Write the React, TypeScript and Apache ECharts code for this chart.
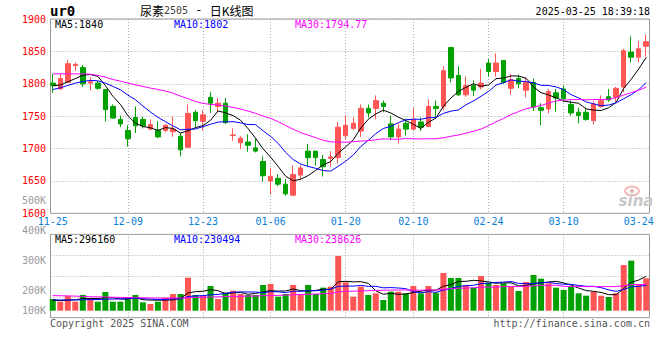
import React, { useEffect, useRef } from 'react';
import * as echarts from 'echarts';

const dates = [
  '2024-11-25','2024-11-26','2024-11-27','2024-11-28','2024-11-29',
  '2024-12-02','2024-12-03','2024-12-04','2024-12-05','2024-12-06',
  '2024-12-09','2024-12-10','2024-12-11','2024-12-12','2024-12-13',
  '2024-12-16','2024-12-17','2024-12-18','2024-12-19','2024-12-20',
  '2024-12-23','2024-12-24','2024-12-25','2024-12-26','2024-12-27',
  '2024-12-30','2024-12-31','2025-01-02','2025-01-03',
  '2025-01-06','2025-01-07','2025-01-08','2025-01-09','2025-01-10',
  '2025-01-13','2025-01-14','2025-01-15','2025-01-16','2025-01-17',
  '2025-01-20','2025-01-21','2025-01-22','2025-01-23','2025-01-24',
  '2025-01-27','2025-02-05','2025-02-06','2025-02-07',
  '2025-02-10','2025-02-11','2025-02-12','2025-02-13','2025-02-14',
  '2025-02-17','2025-02-18','2025-02-19','2025-02-20','2025-02-21',
  '2025-02-24','2025-02-25','2025-02-26','2025-02-27','2025-02-28',
  '2025-03-03','2025-03-04','2025-03-05','2025-03-06','2025-03-07',
  '2025-03-10','2025-03-11','2025-03-12','2025-03-13','2025-03-14',
  '2025-03-17','2025-03-18','2025-03-19','2025-03-20','2025-03-21',
  '2025-03-24','2025-03-25',
];

const opens = [1801,1792,1802,1828,1825,1801,1801,1791,1765,1745,1728,1748,1745,1730,1728,1728,1726,1719,1702,1756,1742,1779,1765,1770,1720,1709,1710,1701,1680,1650,1654,1645,1628,1659,1696,1696,1683,1685,1686,1720,1731,1727,1762,1762,1770,1738,1718,1739,1730,1741,1734,1765,1765,1856,1813,1783,1797,1795,1832,1819,1836,1793,1808,1790,1802,1763,1761,1786,1792,1768,1756,1756,1743,1765,1780,1779,1795,1849,1841,1858];
const closes = [1797,1808,1831,1830,1800,1803,1793,1760,1747,1738,1715,1735,1735,1737,1718,1736,1730,1698,1754,1743,1752,1770,1770,1740,1721,1716,1705,1696,1658,1657,1645,1630,1660,1670,1686,1686,1672,1687,1733,1736,1739,1762,1755,1774,1765,1718,1730,1730,1745,1733,1765,1762,1820,1809,1783,1797,1790,1801,1819,1832,1802,1806,1800,1802,1764,1759,1788,1778,1777,1755,1751,1745,1769,1774,1775,1793,1851,1841,1854,1865];
const lows = [1786,1791,1801,1820,1795,1790,1791,1742,1746,1733,1703,1724,1731,1728,1716,1725,1718,1688,1701,1733,1728,1755,1756,1738,1712,1699,1695,1694,1649,1629,1642,1627,1627,1652,1673,1674,1657,1672,1677,1714,1729,1718,1748,1745,1756,1713,1708,1720,1728,1727,1733,1748,1759,1802,1781,1780,1781,1791,1811,1811,1800,1783,1793,1779,1758,1736,1754,1757,1772,1751,1739,1743,1737,1763,1772,1772,1787,1833,1833,1842];
const highs = [1815,1815,1837,1833,1829,1810,1804,1791,1768,1751,1736,1765,1749,1745,1742,1737,1749,1724,1768,1759,1759,1787,1778,1778,1731,1719,1722,1715,1688,1670,1660,1653,1674,1674,1707,1696,1690,1696,1741,1751,1748,1768,1768,1782,1774,1751,1739,1746,1763,1748,1776,1774,1827,1856,1827,1811,1805,1823,1838,1847,1836,1815,1814,1810,1808,1770,1792,1792,1797,1774,1763,1763,1774,1782,1792,1795,1854,1873,1866,1876];

const ma5 = [1797,1798,1803,1808,1813.2,1814.3,1811.4,1797.3,1780.7,1768.3,1750.7,1739.1,1734.0,1732.0,1728.0,1732.3,1731.1,1723.9,1727.3,1732.3,1735.5,1743.6,1758.0,1755.1,1750.8,1743.7,1730.6,1715.9,1699.5,1686.6,1672.4,1657.3,1650.1,1652.6,1658.2,1666.3,1674.7,1680.0,1692.7,1702.7,1713.5,1731.6,1745.2,1753.4,1759.2,1754.9,1748.4,1743.3,1737.4,1731.0,1740.5,1747.0,1765.2,1778.0,1788.1,1794.5,1800.0,1796.1,1798.2,1807.8,1808.9,1812.1,1811.9,1808.6,1795.0,1786.3,1782.7,1778.4,1773.3,1771.4,1769.9,1761.2,1759.3,1758.8,1762.9,1771.3,1792.7,1807.0,1822.9,1840.9];
const ma10 = [1791.2,1793.8,1797.4,1801,1803.5,1805.1,1804.6,1801,1796,1790.7,1782.5,1775.3,1765.6,1756.4,1748.2,1741.5,1735.1,1728.9,1729.7,1730.2,1733.9,1737.4,1740.9,1741.2,1741.6,1739.6,1737.1,1736.9,1727.3,1718.7,1708.0,1694.0,1683.0,1676.0,1672.4,1669.4,1666.0,1665.1,1672.6,1680.5,1689.9,1703.2,1712.6,1723.0,1731.0,1734.2,1740.0,1744.3,1745.4,1745.1,1747.7,1747.7,1754.3,1757.7,1759.6,1767.5,1773.5,1780.6,1788.1,1798.0,1801.7,1806.1,1804.0,1803.4,1801.4,1797.6,1797.4,1795.2,1790.9,1783.2,1778.1,1772.0,1768.9,1766.1,1767.2,1770.6,1776.9,1783.2,1790.9,1801.9];
const ma30 = [1815.3,1815.3,1815.3,1815.3,1815.3,1814.8,1812.8,1810.2,1806.6,1804.1,1801,1798.4,1795.9,1793.3,1791.2,1788.7,1785.6,1781,1776.9,1772.8,1769.7,1768.1,1767.1,1765.6,1763.5,1760.9,1757.9,1754.3,1750.2,1746.5,1741.5,1735.5,1729.9,1724.5,1720.7,1716.8,1712.8,1710.3,1709.9,1709.8,1710.6,1711.5,1712.2,1713.4,1715.0,1714.4,1714.4,1715.4,1715.1,1714.8,1715.2,1715.0,1716.6,1718.9,1721.0,1723.7,1726.5,1730.0,1735.4,1741.2,1746.4,1752.3,1757.0,1761.4,1764.0,1766.4,1770.3,1773.4,1774.8,1775.4,1775.8,1775.2,1775.7,1775.7,1776.1,1778.6,1782.6,1786.3,1790.0,1794.77];

// volume, in thousands of lots
const volK = [133.7,114.6,155.1,114.6,162.3,138.5,114.6,183.8,114.6,114.6,143.2,162.3,109.9,98.0,114.6,143.2,169.4,169.4,286.2,162.3,157.5,226.7,133.7,179.0,193.3,169.4,162.3,162.3,233.8,240.9,150.4,169.4,233.8,169.4,233.8,169.4,214.7,221.9,441.1,252.9,150.4,221.9,162.3,174.2,126.5,186.1,186.1,174.2,226.7,174.2,226.7,179.0,319.6,283.8,283.8,233.8,214.7,298.1,250.5,233.8,245.7,219.5,190.9,255.2,305.3,279.1,245.7,214.7,198.1,226.7,174.2,157.5,186.1,157.5,148.0,174.2,376.8,407.8,238.6,281.5];
const volMa5 = [125,122,125,128,136.1,137.0,137.0,142.8,142.8,133.2,134.2,143.7,128.9,125.6,125.6,125.6,127.0,138.9,176.6,186.1,189.0,200.4,193.3,171.8,178.0,180.4,167.5,173.3,184.2,193.7,189.9,191.4,205.7,192.8,191.4,195.2,204.2,201.8,256.2,260.0,256.2,257.6,245.7,192.3,167.1,174.2,167.0,169.4,179.9,189.5,197.6,196.2,225.2,236.7,258.6,260.0,267.1,262.8,256.2,246.2,248.6,249.5,228.1,229.0,243.3,250.0,255.2,260.0,248.6,232.9,211.9,194.2,188.5,180.4,164.7,164.7,208.5,252.9,269.1,296.16];
const volMa10 = [128,127,127,127,128,129,130,132,133,134.6,135.6,140.4,135.8,134.2,129.4,129.9,135.4,133.9,151.1,155.9,157.3,163.7,166.1,174.2,182.1,184.7,184.0,183.3,178.0,185.9,185.2,179.5,189.5,188.5,192.6,192.6,197.8,203.8,224.5,225.7,225.7,230.9,223.8,224.3,213.5,215.2,212.3,207.6,186.1,178.3,185.9,181.6,197.3,208.3,224.0,228.8,231.7,244.0,246.4,252.4,254.3,258.3,245.5,242.6,244.8,249.3,252.4,244.0,238.8,238.1,230.9,224.7,224.3,214.5,198.8,188.3,201.4,220.7,224.7,230.494];
const volMa30 = [158,157,156,154,152,150,149,148,146,145,144,143,142,141,140,140,140,140,143,145,146,148,149,151,152,153,154,155,157,158.8,159.4,161.2,163.8,165.6,168.0,169.0,172.4,173.6,184.5,189.1,189.4,191.4,193.1,195.7,196.1,197.5,198.0,198.2,196.2,196.6,198.9,197.3,203.5,207.0,210.0,212.2,213.9,218.5,219.0,218.8,222.0,223.6,222.2,225.1,227.4,231.1,232.1,231.9,223.8,222.9,223.7,221.6,222.4,221.8,222.5,222.1,228.5,236.3,236.7,238.626];

const xLabelDates = ['11-25','12-09','12-23','01-06','01-20','02-10','02-24','03-10','03-24'];
const xGridDates = ['12-09','12-23','01-06','01-20','02-10','02-24','03-10'];
const priceLegend = ['MA5:1840', 'MA10:1802', 'MA30:1794.77'];
const volLegend = ['MA5:296160', 'MA10:230494', 'MA30:238626'];
const volTickLabels = ['500K', '400K', '300K', '200K', '100K'];

const UP = '#ff5555';
const DOWN = '#00a000';
const MONO = '"DejaVu Sans Mono", "Liberation Mono", monospace';
const CJK = '"Noto Sans CJK SC", sans-serif';
const DOT = { color: '#aaaaaa', width: 1, type: [1, 2] as number[] };

export default function App() {
  const ref = useRef<HTMLDivElement>(null);

  useEffect(() => {
    if (!ref.current) return;
    const chart = echarts.init(ref.current, undefined, { renderer: 'svg' });

    const md = (v: string) => v.slice(5);
    const candleData = dates.map((_, i) => [opens[i], closes[i], lows[i], highs[i]]);
    const volData = volK.map((v, i) => ({
      value: v,
      itemStyle: { color: closes[i] >= opens[i] ? UP : DOWN },
    }));
    const line = (data: number[], color: string, xi: number, yi: number) => ({
      type: 'line', data, xAxisIndex: xi, yAxisIndex: yi, symbol: 'none', silent: true,
      lineStyle: { color, width: 1 }, itemStyle: { color }, z: 5,
    });

    const legendColors = ['#000000', '#0000ff', '#ff00ff'];
    const legendX = [55, 174, 295];
    const graphic: any[] = [];
    priceLegend.forEach((t, k) => graphic.push({
      type: 'text', x: legendX[k], y: 24, silent: true,
      style: { text: t, fill: legendColors[k], font: `10px ${MONO}`, textAlign: 'left', textVerticalAlign: 'middle' },
    }));
    volLegend.forEach((t, k) => graphic.push({
      type: 'text', x: legendX[k], y: 239.5, silent: true,
      style: { text: t, fill: legendColors[k], font: `10px ${MONO}`, textAlign: 'left', textVerticalAlign: 'middle' },
    }));
    const volLabelY = [200.7, 230.7, 260.7, 290.7, 310.7];
    volTickLabels.forEach((t, k) => graphic.push({
      type: 'text', x: 46, y: volLabelY[k], silent: true,
      style: { text: t, fill: '#999999', font: `10px ${MONO}`, textAlign: 'right', textVerticalAlign: 'middle' },
    }));
    graphic.push(
      { type: 'text', x: 50, y: 11, silent: true,
        style: { text: 'ur0', fill: '#000', font: `bold 14px ${MONO}`, textAlign: 'left', textVerticalAlign: 'middle' } },
      { type: 'text', x: 140, y: 10, silent: true,
        style: {
          text: '{c|尿素}{n|2505}{m| - }{c|日K线图}', textAlign: 'left', textVerticalAlign: 'middle',
          rich: {
            c: { fontFamily: CJK, fontSize: 12, fill: '#000', color: '#000' },
            n: { fontFamily: MONO, fontSize: 10, fill: '#444', color: '#444' },
            m: { fontFamily: MONO, fontSize: 12, fill: '#000', color: '#000' },
          },
        } },
      { type: 'text', x: 650, y: 11, silent: true,
        style: { text: '2025-03-25 18:39:18', fill: '#000', font: `10px ${MONO}`, textAlign: 'right', textVerticalAlign: 'middle' } },
      { type: 'text', x: 50, y: 323.5, silent: true,
        style: { text: 'Copyright 2025 SINA.COM', fill: '#555', font: `10px ${MONO}`, textAlign: 'left', textVerticalAlign: 'middle' } },
      { type: 'text', x: 650, y: 323.5, silent: true,
        style: { text: 'http://finance.sina.com.cn', fill: '#555', font: `10px ${MONO}`, textAlign: 'right', textVerticalAlign: 'middle' } },
      { type: 'ellipse', shape: { cx: 632, cy: 191, rx: 7, ry: 4.5 }, silent: true, z: 0,
        style: { fill: 'none', stroke: '#f0b8b8', lineWidth: 2 } },
      { type: 'circle', shape: { cx: 632, cy: 191, r: 2 }, silent: true, z: 0,
        style: { fill: '#e8b0b0' } },
      { type: 'text', x: 636, y: 201, silent: true, z: 0,
        style: { text: 'sina', fill: '#c8c8c8', font: `italic bold 15px "DejaVu Sans", sans-serif`, textAlign: 'center', textVerticalAlign: 'middle' } },
    );

    const hiddenValueX = (gi: number) => ({ gridIndex: gi, type: 'value', show: false, min: 0, max: 1 });

    chart.setOption({
      animation: false,
      backgroundColor: '#ffffff',
      grid: [
        { left: 50.5, top: 19, width: 599, height: 194.3, show: true, borderColor: '#999999', borderWidth: 1, backgroundColor: 'transparent' },
        { left: 52.76, top: 19, width: 593.48, height: 194.3 },
        { left: 50.5, top: 234.4, width: 599, height: 83.3, show: true, borderColor: '#999999', borderWidth: 1, backgroundColor: 'transparent' },
        { left: 52.76, top: 234.4, width: 593.48, height: 83.3 },
        { left: 49, top: 234.4, width: 601, height: 76.3 },
      ],
      xAxis: [
        hiddenValueX(0),
        {
          gridIndex: 1, type: 'category', data: dates, boundaryGap: false,
          axisLine: { show: false }, axisTick: { show: false },
          axisLabel: {
            interval: (_i: number, v: string) => xLabelDates.includes(md(v)),
            formatter: (v: string) => md(v),
            color: '#0a80d8', fontFamily: MONO, fontSize: 10, margin: 3,
          },
          splitLine: { show: true, interval: (_i: number, v: string) => xGridDates.includes(md(v)), lineStyle: DOT },
        },
        hiddenValueX(2),
        {
          gridIndex: 3, type: 'category', data: dates, boundaryGap: false,
          axisLine: { show: false }, axisTick: { show: false }, axisLabel: { show: false },
          splitLine: { show: true, interval: (_i: number, v: string) => xGridDates.includes(md(v)), lineStyle: DOT },
        },
        { gridIndex: 4, type: 'category', data: dates, boundaryGap: true, show: false },
      ],
      yAxis: [
        {
          gridIndex: 0, type: 'value', min: 1600, max: 1900, interval: 50,
          axisLine: { show: false }, axisTick: { show: false },
          axisLabel: { color: '#ff0000', fontFamily: MONO, fontSize: 10, margin: 4.5, padding: [0, 0, 6, 0], formatter: (v: number) => String(v) },
          splitLine: { show: true, lineStyle: DOT },
        },
        { gridIndex: 1, type: 'value', min: 1600, max: 1900, show: false },
        {
          gridIndex: 2, type: 'value', min: 0, max: 4, interval: 1,
          axisLine: { show: false }, axisTick: { show: false }, axisLabel: { show: false },
          splitLine: { show: true, lineStyle: DOT },
        },
        { gridIndex: 3, type: 'value', min: 0, max: 1, show: false },
        { gridIndex: 4, type: 'value', min: 50, max: 595.5, show: false },
      ],
      series: [
        {
          type: 'candlestick', data: candleData, xAxisIndex: 1, yAxisIndex: 1,
          barWidth: 5, clip: false, silent: true,
          itemStyle: { color: UP, color0: DOWN, borderColor: UP, borderColor0: DOWN, borderWidth: 1 },
        },
        line(ma5, '#000000', 1, 1),
        line(ma10, '#0000ff', 1, 1),
        line(ma30, '#ff00ff', 1, 1),
        {
          type: 'bar', data: volData, xAxisIndex: 4, yAxisIndex: 4, barWidth: 6, clip: true, silent: true,
        },
        line(volMa5, '#000000', 4, 4),
        line(volMa10, '#0000ff', 4, 4),
        line(volMa30, '#ff00ff', 4, 4),
      ],
      graphic,
    } as any);

    return () => chart.dispose();
  }, []);

  return (
    <div
      ref={ref}
      style={{ position: 'fixed', left: 0, top: 0, width: 660, height: 360, background: '#fff' }}
    />
  );
}
